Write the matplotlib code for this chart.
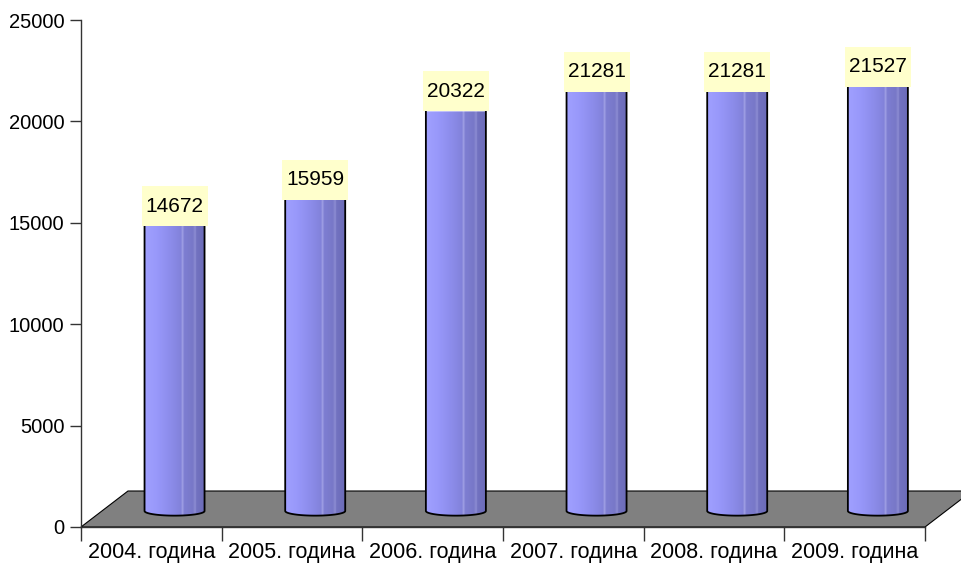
import numpy as np
import matplotlib.pyplot as plt
from matplotlib import rcParams
from matplotlib.patches import Polygon, Rectangle, PathPatch
from matplotlib.path import Path
from matplotlib.colors import LinearSegmentedColormap

rcParams.update({'font.family': ['Liberation Sans', 'DejaVu Sans'],
                 'font.size': 14.5})

###############################################################################
# Data
###############################################################################
years = ['2004. година', '2005. година', '2006. година',
         '2007. година', '2008. година', '2009. година']
values = [14672, 15959, 20322, 21281, 21281, 21527]
y_ticks = [0, 5000, 10000, 15000, 20000, 25000]

###############################################################################
# Figure
###############################################################################
fig = plt.figure(figsize=(9.62, 5.65), dpi=100)
ax = fig.add_axes([81 / 962, 38 / 565, 844 / 962, 507 / 565])
ax.set_xlim(0, len(years))
ax.set_ylim(0, 25000)

for side in ['top', 'right']:
    ax.spines[side].set_visible(False)
for side in ['left', 'bottom']:
    ax.spines[side].set_color('#333333')
    ax.spines[side].set_linewidth(1)

ax.set_yticks(y_ticks)
ax.tick_params(axis='y', direction='out', length=8, width=1, pad=4, color='#333333')
ax.set_xticks(np.arange(len(years) + 1))
ax.set_xticklabels([])
ax.tick_params(axis='x', which='major', direction='out', length=10, width=1, color='#333333')
ax.set_xticks(np.arange(len(years)) + 0.5, minor=True)
ax.set_xticklabels(years, minor=True, fontsize=15.5)
ax.tick_params(axis='x', which='minor', length=0, pad=11)

# pseudo-3D depth of the floor (in data units)
px_x = 844 / len(years)
px_y = 507 / 25000
dx = 47 / px_x
dy = 36 / px_y

floor = Polygon([(0, 0), (len(years), 0), (len(years) + dx, dy), (dx, dy)],
                closed=True, facecolor='#808080', edgecolor='black',
                linewidth=0.8, clip_on=False, zorder=1)
ax.add_patch(floor)

# cylinder shading
cyl_cmap = LinearSegmentedColormap.from_list(
    'cyl', [(0.0, '#a0a0ff'), (0.2, '#9898fa'), (0.35, '#9090f0'),
            (0.5, '#8888e4'), (0.6, '#8282da'), (0.63, '#a4a4e6'),
            (0.65, '#7e7ed2'), (0.8, '#7878c8'), (0.84, '#8e8ed4'),
            (0.86, '#7272c0'), (1.0, '#6c6cb8')])
grad = np.linspace(0, 1, 256).reshape(1, -1)

bar_w = 60 / px_x
shift = 0.665
base_c = 790
ell_h = 230
for i, v in enumerate(values):
    xc = i + shift
    x0, x1 = xc - bar_w / 2, xc + bar_w / 2
    top = v + 170
    t = np.linspace(np.pi, 2 * np.pi, 40)
    ex = xc + (bar_w / 2) * np.cos(t)
    ey = base_c + ell_h * np.sin(t)
    verts = [(x0, top)] + list(zip(ex, ey)) + [(x1, top), (x0, top)]
    clip = PathPatch(Path(verts, closed=True), facecolor='none', edgecolor='none')
    ax.add_patch(clip)
    im = ax.imshow(grad, cmap=cyl_cmap, aspect='auto', extent=(x0, x1, base_c - ell_h, top),
                   zorder=2, interpolation='bilinear')
    im.set_clip_path(clip)
    outline = [(x0, top)] + list(zip(ex, ey)) + [(x1, top)]
    ox, oy = zip(*outline)
    ax.plot(ox, oy, color='black', linewidth=1.3, zorder=3)

    # value label
    box_w = 66 / px_x
    box_h = 40 / px_y
    ax.add_patch(Rectangle((xc - box_w / 2, top), box_w, box_h,
                           facecolor='#ffffcc', edgecolor='none', zorder=4))
    ax.text(xc, top + box_h / 2, str(v), ha='center', va='center',
            fontsize=15, zorder=5)

ax.set_xlim(0, len(years))
ax.set_ylim(0, 25000)

fig.savefig('out.png', dpi=100)
